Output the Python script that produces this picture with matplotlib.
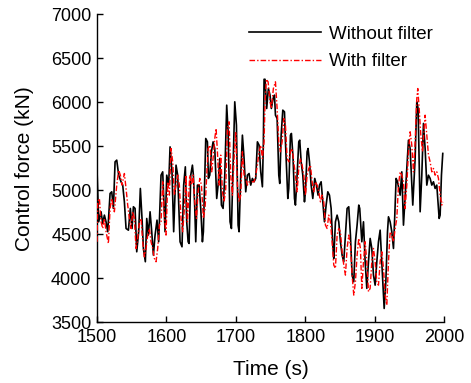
import matplotlib
matplotlib.use("Agg")
import matplotlib.pyplot as plt

plt.rcParams['font.family'] = ['Liberation Sans', 'DejaVu Sans']

# Without filter (black)
t_black = [1500.0, 1502.4, 1505.8, 1508.2, 1510.6, 1513.0, 1515.4, 1518.8, 1521.2, 1523.6,
           1526.0, 1528.4, 1531.2, 1534.6, 1537.0, 1539.4, 1541.8, 1545.2, 1548.0, 1550.4,
           1552.4, 1554.8, 1557.2, 1560.0, 1562.4, 1564.8, 1566.8, 1569.6, 1571.6, 1574.0,
           1576.4, 1578.8, 1581.2, 1583.6, 1586.4, 1588.8, 1592.2, 1594.6, 1598.0, 1600.4,
           1603.2, 1605.2, 1608.0, 1610.4, 1613.8, 1616.2, 1619.6, 1622.4, 1624.8, 1627.2,
           1629.2, 1631.2, 1632.6, 1635.0, 1637.4, 1638.8, 1640.8, 1642.2, 1644.6, 1647.0,
           1649.4, 1651.8, 1653.2, 1655.2, 1656.6, 1659.0, 1660.4, 1662.4, 1664.8, 1667.2,
           1669.6, 1672.4, 1674.4, 1676.8, 1679.2, 1681.6, 1684.0, 1686.8, 1688.8, 1691.6,
           1693.6, 1696.0, 1698.4, 1700.8, 1703.2, 1704.6, 1707.0, 1709.4, 1711.8, 1714.2,
           1716.6, 1719.0, 1721.4, 1723.8, 1726.2, 1728.6, 1731.0, 1733.4, 1735.8, 1738.2,
           1739.6, 1740.6, 1742.0, 1744.4, 1746.8, 1749.2, 1751.1, 1753.6, 1755.6, 1757.0,
           1759.4, 1761.8, 1763.2, 1765.2, 1767.6, 1770.0, 1771.4, 1772.8, 1774.8, 1776.2,
           1778.6, 1780.0, 1782.4, 1784.4, 1785.8, 1788.2, 1790.6, 1792.0, 1794.0, 1796.4,
           1798.8, 1800.2, 1802.6, 1804.0, 1806.0, 1808.4, 1810.8, 1813.6, 1816.0, 1818.4,
           1820.4, 1822.8, 1825.2, 1827.6, 1830.0, 1832.4, 1834.8, 1837.2, 1839.6, 1841.0,
           1843.4, 1845.8, 1848.2, 1850.6, 1853.0, 1855.4, 1857.8, 1860.2, 1862.6, 1865.0,
           1867.4, 1869.8, 1872.2, 1874.6, 1877.0, 1878.4, 1881.4, 1883.8, 1886.2, 1888.6,
           1891.0, 1893.4, 1895.8, 1898.2, 1900.6, 1903.0, 1905.4, 1907.8, 1910.2, 1913.6,
           1916.0, 1918.4, 1919.8, 1922.2, 1924.6, 1927.0, 1928.9, 1930.8, 1932.8, 1936.6,
           1939.0, 1941.4, 1944.8, 1948.6, 1951.0, 1954.8, 1958.2, 1960.6, 1962.5, 1965.4,
           1967.8, 1970.2, 1972.6, 1975.0, 1977.4, 1979.8, 1982.2, 1984.6, 1987.0, 1989.4,
           1992.8, 1994.2, 1996.1, 1998.0]
f_black = [5227, 4640, 4754, 4621, 4716, 4640, 4527, 4962, 4981, 4792,
           5322, 5341, 5170, 5095, 5057, 4867, 4564, 4545, 4792, 4564,
           4811, 4792, 4299, 4527, 5019, 4678, 4337, 4186, 4678, 4489,
           4754, 4527, 4261, 4489, 4659, 4413, 5170, 5208, 4527, 5170,
           5057, 5492, 5208, 4527, 5284, 5170, 4413, 4356, 5057, 5265,
           4640, 4413, 4394, 5170, 5284, 5170, 4792, 4413, 5057, 5057,
           4792, 4413, 4527, 5170, 5587, 5549, 5133, 5170, 5436, 5549,
           5473, 4905, 5057, 5360, 4830, 4792, 5170, 5966, 5663, 4640,
           4564, 5284, 6004, 5739, 4602, 4527, 5170, 5625, 5360, 4981,
           5170, 5189, 5057, 5133, 5095, 5133, 5549, 5511, 5208, 5038,
           5549, 6260, 6260, 5928, 6155, 6080, 5928, 6042, 6080, 5852,
           5814, 5170, 5076, 5625, 5909, 5890, 5549, 5284, 4905, 5019,
           5625, 5644, 5360, 4905, 4830, 5170, 5549, 5568, 5322, 5170,
           4867, 4981, 5436, 5473, 5322, 5057, 4905, 5133, 5057, 4943,
           5057, 5095, 4867, 4640, 4830, 4981, 4943, 4792, 4375, 4223,
           4640, 4716, 4640, 4413, 4261, 4186, 4489, 4792, 4811, 4489,
           4034, 3958, 4413, 4602, 4830, 4792, 4413, 4640, 4186, 3883,
           4186, 4451, 4337, 4034, 3920, 4186, 4413, 4545, 4186, 3655,
           3958, 4527, 4697, 4640, 4527, 4337, 4716, 5133, 5095, 4943,
           5208, 4602, 5057, 5568, 5473, 4830, 5360, 6004, 5928, 4754,
           5170, 5758, 5473, 5057, 5170, 5133, 5057, 5095, 5019, 5057,
           4678, 4716, 5170, 5417]

# With filter (red)
t_red = [1500.0, 1501.0, 1503.4, 1505.8, 1508.2, 1510.6, 1513.0, 1516.4, 1518.8, 1521.2,
         1523.6, 1525.0, 1528.4, 1531.2, 1533.6, 1536.0, 1539.4, 1541.8, 1544.2, 1546.6,
         1549.0, 1551.4, 1553.8, 1556.2, 1558.6, 1561.0, 1563.4, 1565.8, 1568.2, 1570.6,
         1573.0, 1575.4, 1577.8, 1580.2, 1582.6, 1585.0, 1587.4, 1589.8, 1592.2, 1594.6,
         1597.0, 1599.4, 1601.8, 1604.2, 1606.6, 1609.0, 1611.4, 1613.8, 1616.2, 1618.6,
         1621.0, 1623.4, 1625.8, 1628.2, 1630.2, 1633.6, 1636.0, 1638.4, 1640.8, 1643.2,
         1645.6, 1648.0, 1650.4, 1653.2, 1655.6, 1658.0, 1660.0, 1662.8, 1665.2, 1667.6,
         1669.6, 1671.5, 1673.4, 1675.8, 1678.2, 1680.6, 1683.0, 1685.4, 1687.8, 1690.2,
         1692.6, 1695.0, 1697.4, 1699.8, 1702.2, 1704.6, 1707.0, 1709.4, 1711.8, 1714.2,
         1716.6, 1719.0, 1721.4, 1723.8, 1726.2, 1728.6, 1731.0, 1733.4, 1735.8, 1738.2,
         1740.6, 1742.0, 1743.9, 1746.4, 1749.2, 1751.2, 1754.0, 1757.0, 1759.4, 1761.8,
         1764.2, 1766.6, 1769.0, 1771.4, 1773.8, 1776.2, 1778.6, 1781.0, 1783.4, 1785.8,
         1788.2, 1790.6, 1793.0, 1795.4, 1797.8, 1800.2, 1802.6, 1805.0, 1807.4, 1809.8,
         1812.2, 1814.6, 1817.0, 1819.4, 1821.8, 1824.2, 1826.6, 1829.0, 1831.4, 1833.8,
         1836.2, 1838.6, 1841.0, 1843.4, 1845.8, 1848.2, 1850.6, 1853.0, 1855.4, 1857.8,
         1860.2, 1862.6, 1865.0, 1867.4, 1869.8, 1872.2, 1874.6, 1877.0, 1879.4, 1881.4,
         1883.8, 1886.2, 1888.6, 1891.0, 1893.4, 1895.8, 1898.2, 1900.6, 1903.0, 1905.4,
         1907.8, 1910.2, 1912.6, 1915.0, 1917.4, 1919.8, 1922.2, 1924.6, 1927.0, 1929.4,
         1931.8, 1934.2, 1936.6, 1939.0, 1941.4, 1943.8, 1946.2, 1948.6, 1951.0, 1953.4,
         1955.8, 1958.2, 1960.6, 1962.0, 1964.0, 1966.4, 1968.8, 1971.2, 1972.6, 1975.0,
         1977.4, 1979.8, 1982.2, 1984.6, 1987.0, 1989.4, 1991.8, 1994.2, 1996.6, 1998.0]
f_red = [4413, 4867, 4905, 4640, 4564, 4678, 4527, 4394, 4792, 4905,
         4792, 4754, 5057, 5227, 5170, 5057, 5189, 5019, 4830, 4678,
         4564, 4754, 4678, 4337, 4451, 4640, 4678, 4413, 4242, 4337,
         4489, 4564, 4413, 4337, 4223, 4186, 4337, 4602, 4640, 5095,
         4716, 4489, 5095, 4943, 5473, 5322, 4943, 5057, 5170, 5057,
         4678, 4527, 4792, 5170, 4640, 5170, 5057, 5170, 4867, 4678,
         4981, 5133, 5057, 4678, 4792, 5170, 5473, 5511, 5208, 5398,
         5587, 5701, 5436, 5057, 5398, 4981, 4867, 5019, 5701, 5777,
         5170, 4943, 5360, 5663, 5057, 4867, 4943, 5436, 5170, 5133,
         5057, 5095, 5095, 5095, 5095, 5170, 5284, 5436, 5511, 5360,
         5549, 6004, 6260, 6231, 6004, 5928, 6155, 6231, 5928, 5549,
         5436, 5549, 5814, 5739, 5360, 5322, 5436, 5473, 5322, 5170,
         4981, 5246, 5360, 5284, 5170, 4943, 5170, 5246, 5284, 5095,
         4981, 5095, 5057, 4981, 4867, 4943, 4867, 4602, 4564, 4716,
         4640, 4413, 4148, 4110, 4489, 4564, 4527, 4299, 4148, 4034,
         4337, 4489, 4375, 4034, 3807, 3958, 4261, 4451, 4337, 3883,
         4186, 4413, 4186, 3845, 3883, 4186, 4337, 4186, 3958, 3920,
         4186, 4299, 4110, 3807, 3693, 4186, 4527, 4489, 4413, 4564,
         4678, 5057, 5208, 5170, 5095, 4792, 5057, 5436, 5663, 5511,
         5208, 5549, 6042, 6155, 5928, 5625, 5436, 5701, 5852, 5625,
         5398, 5322, 5208, 5246, 5170, 5208, 5133, 4943, 4830, 4867]

x_ticks = [1500, 1600, 1700, 1800, 1900, 2000]
y_ticks = [3500, 4000, 4500, 5000, 5500, 6000, 6500, 7000]

fig = plt.figure(figsize=(4.71, 3.83), dpi=100)
ax = fig.add_axes([0.206, 0.159, 0.737, 0.804])

ax.plot(t_black, f_black, color='black', linewidth=1.2, label='Without filter', zorder=2)
ax.plot(t_red, f_red, color='red', linewidth=1.0, linestyle=(0, (4, 1.5, 1, 1.5)),
        label='With filter', zorder=3)

ax.set_xlim(1500, 2000)
ax.set_ylim(3500, 7000)
ax.set_xticks(x_ticks)
ax.set_yticks(y_ticks)
ax.tick_params(direction='in', length=4, width=1, labelsize=13, pad=4)
ax.tick_params(axis='x', pad=5)
for s in ['top', 'right']:
    ax.spines[s].set_visible(False)
for s in ['left', 'bottom']:
    ax.spines[s].set_linewidth(1.0)

ax.set_xlabel('Time (s)', fontsize=15, labelpad=10)
ax.set_ylabel('Control force (kN)', fontsize=15, labelpad=12)

ax.legend(loc='upper left', bbox_to_anchor=(0.439, 0.962), frameon=False,
          fontsize=13.5, handlelength=3.84, handletextpad=0.43, labelspacing=0.54,
          borderpad=0, borderaxespad=0)

fig.savefig('out.png', dpi=100)
